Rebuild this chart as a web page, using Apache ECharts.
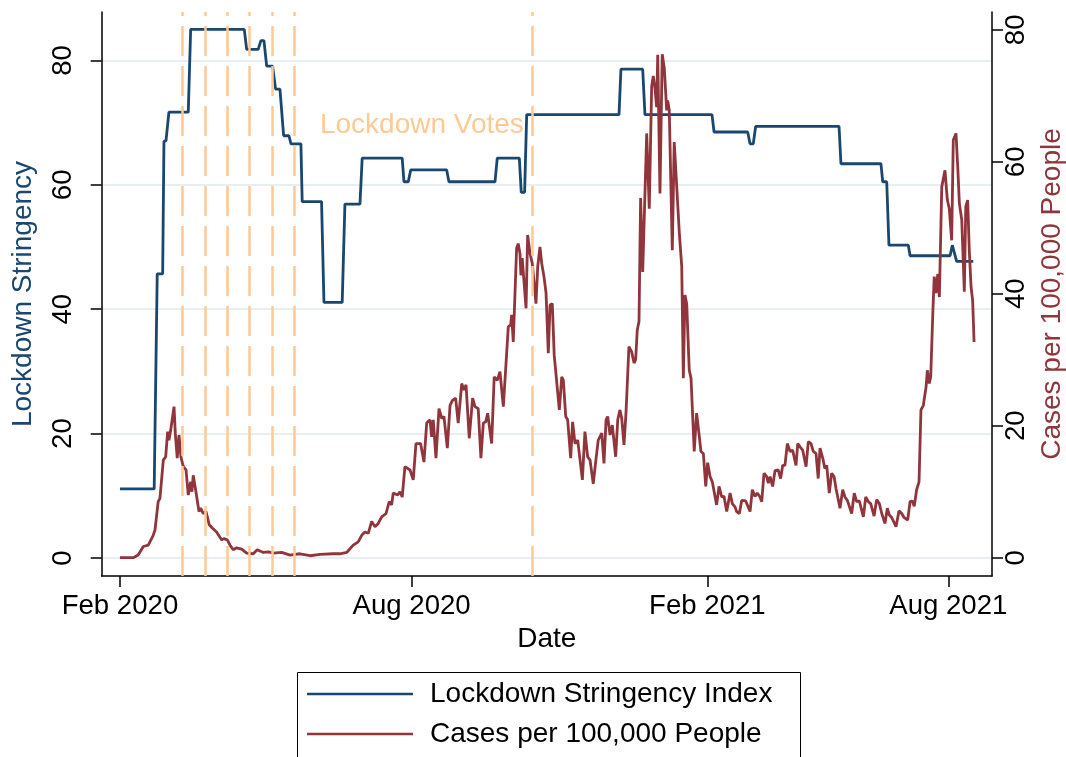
<!DOCTYPE html>
<html><head><meta charset="utf-8">
<script src="https://cdn.jsdelivr.net/npm/echarts@6/dist/echarts.min.js"></script>
<style>html,body{margin:0;padding:0;background:#fff;overflow:hidden}#c{width:1066px;height:757px}</style>
</head><body><div id="c"></div>
<script>
// x unit: days since start of series (Feb 2020)
const xTickValues = [0, 182.3, 367.1, 517.7];
const xTickLabels = ['Feb 2020', 'Aug 2020', 'Feb 2021', 'Aug 2021'];
const yTicks = [0, 20, 40, 60, 80];
const voteDays = [38.9, 53.1, 67.1, 80.8, 95, 108.9, 257.7];

const stringencyDays = [0, 21.4, 23.3, 26.7, 27.5, 28.8, 30.6, 42.7, 44.2, 77.7, 79.2, 86.4, 88.1, 90, 91.7, 95.4, 97.3, 100, 102.3, 105.6, 106.9, 113.1, 113.9, 126, 127.5, 138.9, 140.6, 150, 151.4, 176.4, 177.5, 180.2, 181.7, 204.2, 205.6, 234.4, 235.8, 249.6, 250.8, 252.9, 254.2, 311.9, 313.1, 326.7, 328.1, 370, 371.3, 392.3, 393.8, 395.8, 397.3, 449.4, 450.6, 475.6, 476.7, 479.2, 480.6, 492.7, 493.8, 518.8, 520.2, 521.4, 522.9, 533.3];
const stringencyValues = [11.1, 11.1, 45.7, 45.7, 67.0, 67.1, 71.7, 71.7, 85.0, 85.0, 81.8, 81.8, 83.2, 83.2, 79.1, 79.1, 75.4, 75.4, 67.9, 67.9, 66.6, 66.6, 57.3, 57.3, 41.1, 41.1, 56.9, 56.9, 64.3, 64.3, 60.5, 60.5, 62.4, 62.4, 60.5, 60.5, 64.3, 64.3, 58.8, 58.8, 71.3, 71.3, 78.6, 78.6, 71.3, 71.3, 68.5, 68.5, 66.6, 66.6, 69.4, 69.4, 63.4, 63.4, 60.5, 60.5, 50.3, 50.3, 48.6, 48.6, 50.3, 50.3, 47.7, 47.7];

const casesDays = [0, 8.3, 11.4, 14.6, 17.7, 20.8, 21.9, 23.9, 25, 27.1, 28.6, 29.8, 30.6, 31.7, 33.8, 34.6, 35.8, 36.9, 38.1, 39.6, 41.3, 42.7, 44.2, 45, 45.8, 47.3, 49.4, 50.4, 52.1, 53.8, 55.8, 57.7, 60.4, 63.6, 65, 67.1, 68.8, 70.8, 72.9, 76.1, 79.2, 83.3, 85.8, 89.6, 92.7, 95.8, 101.1, 106.3, 112.5, 118.8, 125, 133.3, 137.5, 141.7, 145.8, 148.9, 151.1, 153.1, 155.2, 157.3, 159.4, 161.4, 163.6, 166.3, 168.3, 169.8, 170.8, 173.6, 175, 176.4, 178.1, 181.3, 183.3, 185, 187.9, 190, 191.7, 193.8, 194.8, 195.8, 197.5, 199.4, 201.1, 202.5, 204.6, 206.3, 207.7, 209.8, 211.4, 213.6, 215, 216.3, 218.3, 220.4, 221.9, 223.9, 225.6, 227.1, 228.6, 229.8, 232.3, 233.9, 235.8, 237.5, 239.6, 241.3, 242.7, 244.2, 244.8, 245.8, 246.9, 247.9, 248.9, 250, 250.6, 251.4, 253.8, 254.8, 256.3, 257.7, 258.8, 260, 261.1, 262.5, 263.6, 265, 266.3, 267.7, 268.8, 270.2, 271.4, 272.5, 274.6, 276.1, 277.1, 278.6, 279.8, 281.7, 282.9, 284.4, 286.1, 289, 290.6, 292.3, 293.8, 295.8, 297.3, 298.9, 301.1, 302.5, 303.8, 304.8, 306.3, 307.7, 309.8, 311.1, 312.5, 313.6, 315, 316.3, 317.3, 318.1, 319.8, 321.3, 322.3, 323.3, 324.4, 325.4, 326.7, 329.2, 330.8, 332.3, 333.3, 334.4, 335.4, 336.1, 337.5, 338.9, 340.2, 341.7, 342.3, 343.3, 345.2, 346.4, 349.6, 351.1, 352.1, 353.1, 354.2, 355.8, 356.9, 358.9, 360.4, 362.1, 363.1, 364.6, 366.1, 367.3, 368.8, 370.2, 371.4, 372.9, 374.4, 376.1, 377.5, 379.2, 381.3, 382.7, 384.4, 385.4, 387.1, 388.6, 391.1, 392.3, 393.8, 395.2, 396.9, 398.3, 400, 401.1, 402.5, 404.2, 405.2, 406.3, 407.9, 409.4, 411.4, 412.9, 414.2, 415.6, 417.1, 418.8, 420.4, 422.5, 423.6, 425, 426.7, 428.8, 430.2, 431.9, 433.3, 435, 436.4, 437.5, 439.2, 440.6, 441.7, 443.3, 444.8, 446.3, 447.5, 448.6, 450, 451.7, 453.1, 454.6, 457.3, 458.9, 460.4, 462.1, 464.6, 466.1, 467.7, 469.2, 471.3, 472.9, 474.6, 476.1, 478.1, 479.6, 480.8, 482.3, 485, 486.9, 488.6, 490, 492.3, 493.8, 495.2, 496.4, 497.9, 499.4, 500.6, 502.1, 503.8, 504.6, 505.8, 506.7, 508, 508.9, 510, 511.1, 512.1, 513.6, 515.6, 517.1, 518.3, 519.8, 520.8, 522.5, 523.6, 524.6, 526.1, 527.7, 528.6, 529.8, 530.8, 531.9, 532.9, 533.8];
const casesValues = [0, 0, 0.4, 1.7, 1.9, 3.4, 4.2, 8.5, 9.0, 14.8, 15.3, 19.1, 17.8, 19.3, 22.9, 18.8, 15.1, 18.6, 15.3, 13.8, 13.3, 9.5, 11.5, 10.0, 12.5, 10.3, 7.0, 7.5, 6.7, 7.0, 5.0, 4.5, 3.9, 2.7, 2.9, 2.7, 1.9, 1.2, 1.5, 1.3, 0.7, 0.6, 1.2, 0.8, 0.9, 0.7, 0.8, 0.4, 0.6, 0.3, 0.5, 0.6, 0.6, 0.8, 1.9, 2.4, 3.4, 3.9, 3.7, 5.5, 4.7, 5.2, 6.2, 6.7, 8.5, 8.0, 9.8, 9.5, 10.0, 9.2, 13.8, 13.3, 11.8, 17.3, 17.3, 14.5, 20.4, 20.9, 18.3, 20.9, 15.1, 22.6, 21.1, 21.4, 16.6, 23.1, 23.8, 24.2, 20.4, 26.4, 25.4, 26.2, 18.1, 24.2, 22.9, 22.6, 15.1, 20.4, 20.6, 21.9, 17.3, 27.4, 26.9, 28.2, 22.9, 29.5, 35.0, 35.3, 36.8, 32.7, 33.0, 46.9, 47.6, 46.1, 42.8, 45.4, 37.8, 48.9, 46.1, 44.6, 44.4, 38.5, 44.1, 47.1, 44.6, 42.6, 40.1, 31.0, 38.3, 38.5, 30.7, 30.5, 22.4, 27.4, 26.9, 21.4, 20.9, 15.1, 20.6, 17.3, 17.8, 11.8, 19.1, 15.3, 14.8, 11.2, 14.5, 17.8, 18.9, 14.3, 20.9, 21.4, 18.6, 20.1, 15.3, 20.9, 22.4, 21.1, 17.1, 22.1, 22.4, 32.0, 31.2, 29.5, 30.0, 34.5, 35.8, 54.5, 43.3, 64.3, 52.9, 71.4, 73.0, 71.1, 68.3, 76.2, 55.2, 76.3, 74.2, 67.8, 69.3, 67.8, 46.6, 63.0, 49.2, 44.1, 27.2, 39.8, 38.5, 28.4, 27.2, 16.1, 21.9, 18.3, 16.1, 15.8, 10.8, 14.4, 12.3, 11.5, 11.3, 8.0, 10.8, 9.2, 9.3, 7.0, 9.8, 8.2, 7.7, 7.0, 6.7, 8.7, 8.6, 8.7, 7.0, 10.3, 9.3, 9.8, 9.2, 8.5, 12.8, 12.3, 11.3, 12.3, 10.8, 13.2, 13.3, 12.0, 14.0, 14.0, 17.3, 16.1, 16.3, 14.0, 17.3, 16.8, 16.3, 13.8, 17.6, 17.3, 16.1, 15.8, 12.0, 16.6, 15.1, 13.5, 14.0, 9.8, 12.8, 12.3, 10.5, 10.4, 7.5, 10.3, 9.2, 8.7, 6.7, 9.8, 8.5, 8.6, 6.2, 9.2, 8.5, 8.2, 6.3, 8.8, 8.2, 6.7, 5.2, 7.5, 6.5, 6.1, 4.7, 7.1, 6.7, 6.1, 5.7, 8.5, 8.6, 7.8, 10.3, 11.5, 22.4, 23.1, 25.9, 28.4, 26.4, 27.4, 37.0, 42.6, 40.1, 43.0, 39.5, 56.2, 58.7, 54.2, 52.9, 48.1, 63.3, 64.3, 59.2, 53.7, 51.2, 40.3, 53.2, 54.2, 46.6, 41.1, 39.0, 32.7];

const FONT = "'Liberation Sans', Arial, Helvetica, sans-serif";
const BLUE = '#1a476f';
const RED = '#90353b';
const ORANGE = '#ffc994';
const SERIES_NAMES = ['Lockdown Stringency Index', 'Cases per 100,000 People'];

function zip(a, b) { const n = Math.min(a.length, b.length); const r = []; for (let i = 0; i < n; i++) r.push([a[i], b[i]]); return r; }
function xLabel(v) { for (let i = 0; i < xTickValues.length; i++) if (Math.abs(v - xTickValues[i]) < 0.01) return xTickLabels[i]; return ''; }

const legendCommon = {
  orient: 'horizontal', left: 307, icon: 'rect', itemWidth: 106, itemHeight: 2.5, padding: 0,
  textStyle: { fontSize: 28, color: '#000', fontFamily: FONT, padding: [0, 0, 0, 12] }
};

const chart = echarts.init(document.getElementById('c'), null, { renderer: 'canvas' });
chart.setOption({
  animation: false,
  backgroundColor: '#fff',
  textStyle: { fontFamily: FONT },
  grid: { left: 101.7, right: 74, top: 12, bottom: 181, containLabel: false, outerBoundsMode: 'none' },
  xAxis: {
    type: 'value', min: -11.4, max: 545,
    name: 'Date', nameLocation: 'middle', nameGap: 45,
    nameTextStyle: { fontSize: 28, color: '#000', fontFamily: FONT },
    axisLine: { show: true, onZero: false, lineStyle: { color: '#000', width: 1.5 } },
    axisTick: { show: true, length: 11, customValues: xTickValues, lineStyle: { color: '#000', width: 1.5 } },
    axisLabel: { customValues: xTickValues, formatter: xLabel, fontSize: 27.6, color: '#000', margin: 16, fontFamily: FONT },
    splitLine: { show: false }
  },
  yAxis: [{
    type: 'value', position: 'left', min: -2.9, max: 87.8,
    name: 'Lockdown Stringency', nameLocation: 'middle', nameGap: 64, nameRotate: 90,
    nameTextStyle: { fontSize: 28, color: BLUE, fontFamily: FONT },
    axisLine: { show: true, onZero: false, lineStyle: { color: '#000', width: 1.5 } },
    axisTick: { show: true, length: 11, customValues: yTicks, lineStyle: { color: '#000', width: 1.5 } },
    axisLabel: { customValues: yTicks, rotate: 90, fontSize: 27.6, color: '#000', margin: 24, fontFamily: FONT },
    splitLine: { show: true, customValues: yTicks, lineStyle: { color: '#e8eff1', width: 2 } }
  }, {
    type: 'value', position: 'right', min: -2.77, max: 82.7,
    name: 'Cases per 100,000 People', nameLocation: 'middle', nameGap: 44, nameRotate: 90,
    nameTextStyle: { fontSize: 28, color: RED, fontFamily: FONT },
    axisLine: { show: true, onZero: false, lineStyle: { color: '#000', width: 1.5 } },
    axisTick: { show: true, length: 11, customValues: yTicks, lineStyle: { color: '#000', width: 1.5 } },
    axisLabel: { customValues: yTicks, rotate: 90, fontSize: 27.6, color: '#000', margin: 10, fontFamily: FONT },
    splitLine: { show: false }
  }],
  legend: [
    Object.assign({}, legendCommon, { top: 680, data: [SERIES_NAMES[0]] }),
    Object.assign({}, legendCommon, { top: 720, data: [SERIES_NAMES[1]] })
  ],
  graphic: [{
    type: 'rect', left: 295, top: 670, z: 100, silent: true,
    shape: { width: 503, height: 110 },
    style: { fill: null, stroke: '#000', lineWidth: 1 }
  }],
  series: [{
    name: 'votes', type: 'line', data: [], z: 1, silent: true,
    markLine: {
      silent: true, symbol: 'none', label: { show: false },
      lineStyle: { color: ORANGE, width: 2.5, type: [30, 10] },
      data: voteDays.map(d => ({ xAxis: d }))
    },
    markPoint: {
      silent: true,
      data: [{ coord: [125, 69.6], symbol: 'circle', symbolSize: 0,
        label: { show: true, position: 'right', distance: 0, formatter: 'Lockdown Votes', fontSize: 28, color: ORANGE, fontFamily: FONT } }]
    }
  }, {
    name: SERIES_NAMES[0], type: 'line', xAxisIndex: 0, yAxisIndex: 0, z: 3,
    showSymbol: false, symbol: 'none', color: BLUE,
    lineStyle: { color: BLUE, width: 2.8 },
    data: zip(stringencyDays, stringencyValues)
  }, {
    name: SERIES_NAMES[1], type: 'line', xAxisIndex: 0, yAxisIndex: 1, z: 4,
    showSymbol: false, symbol: 'none', color: RED,
    lineStyle: { color: RED, width: 2.8 },
    data: zip(casesDays, casesValues)
  }]
});
</script>
</body></html>
